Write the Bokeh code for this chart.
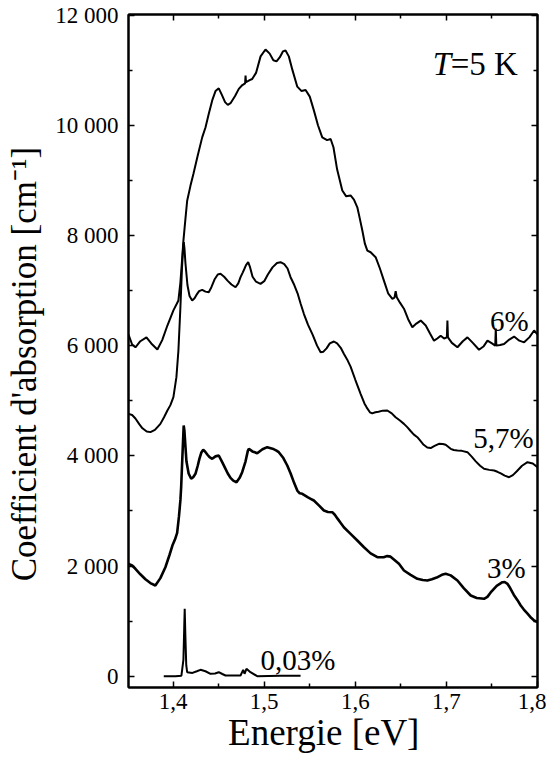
from bokeh.plotting import figure
from bokeh.models import Range1d, FixedTicker, LinearAxis, Label, CustomLabelingPolicy
from bokeh.embed import file_html
from bokeh.resources import INLINE

# ---------------- data ----------------
energy_6 = [1.351, 1.3550, 1.3586, 1.3640, 1.3707, 1.3760, 1.3827, 1.3880, 1.3937, 1.4003, 1.4040,
            1.4058, 1.4080, 1.4100, 1.4113, 1.4135, 1.4154, 1.4190, 1.4223, 1.4270, 1.4319, 1.4355,
            1.4390, 1.4429, 1.4465, 1.4501, 1.4535, 1.4570, 1.4600, 1.4630, 1.4680, 1.4721, 1.4760,
            1.4790, 1.4795, 1.4800, 1.4840, 1.4868, 1.4910, 1.4960, 1.5014, 1.5060, 1.5100, 1.5135,
            1.5170, 1.5205, 1.5234, 1.5270, 1.5310, 1.5363, 1.5410, 1.5454, 1.5500, 1.5545, 1.5590,
            1.5637, 1.5690, 1.5729, 1.5760, 1.5800, 1.5857, 1.5900, 1.5948, 1.5985, 1.6022, 1.6050,
            1.6077, 1.6105, 1.6132, 1.6168, 1.6223, 1.6270, 1.6314, 1.6360, 1.6407, 1.6430, 1.6443,
            1.6455, 1.6490, 1.6534, 1.6580, 1.6626, 1.6670, 1.6718, 1.6773, 1.6820, 1.6864, 1.6900,
            1.6937, 1.6975, 1.7005, 1.7011, 1.7017, 1.7060, 1.7121, 1.7180, 1.7231, 1.7290, 1.7358,
            1.7410, 1.7451, 1.7500, 1.7536, 1.7542, 1.7548, 1.7590, 1.7633, 1.7690, 1.7743, 1.7800,
            1.7853, 1.7910, 1.7963, 1.8000]
alpha_6 = [6200, 6020, 5970, 6080, 6150, 6040, 5930, 6100, 6365, 6640, 6760,
           6820, 7150, 7600, 7905, 8300, 8630, 8900, 9120, 9450, 9780, 9960,
           10200, 10450, 10620, 10670, 10550, 10420, 10370, 10400, 10530, 10660, 10730,
           10760, 10900, 10780, 10820, 10840, 10950, 11250, 11375, 11300, 11180, 11160,
           11230, 11340, 11357, 11250, 11000, 10700, 10620, 10640, 10520, 10270, 10000,
           9780, 9730, 9750, 9600, 9200, 8815, 8710, 8725, 8650, 8510, 8300,
           8090, 7850, 7725, 7695, 7605, 7400, 7180, 6950, 6850, 6870, 6990,
           6880, 6780, 6670, 6480, 6335, 6400, 6455, 6365, 6220, 6090, 6130,
           6180, 6130, 6150, 6455, 6150, 6050, 5970, 6080, 6150, 6050, 5925,
           5990, 6090, 6040, 6000, 6310, 6000, 6010, 6030, 6110, 6165, 6090,
           6060, 6150, 6275, 6200]

energy_57 = [1.351, 1.3550, 1.3586, 1.3630, 1.3663, 1.3710, 1.3751, 1.3800, 1.3860, 1.3900, 1.3937,
             1.3970, 1.4003, 1.4036, 1.4058, 1.4080, 1.4097, 1.4110, 1.4117, 1.4125, 1.4135, 1.4157,
             1.4180, 1.4209, 1.4235, 1.4256, 1.4285, 1.4319, 1.4355, 1.4391, 1.4420, 1.4454, 1.4490,
             1.4520, 1.4560, 1.4597, 1.4640, 1.4685, 1.4715, 1.4740, 1.4765, 1.4784, 1.4800, 1.4824,
             1.4845, 1.4872, 1.4910, 1.4959, 1.5000, 1.5040, 1.5091, 1.5140, 1.5179, 1.5220, 1.5256,
             1.5289, 1.5330, 1.5366, 1.5400, 1.5435, 1.5480, 1.5531, 1.5580, 1.5619, 1.5650, 1.5684,
             1.5720, 1.5765, 1.5800, 1.5840, 1.5874, 1.5910, 1.5948, 1.6000, 1.6058, 1.6100, 1.6124,
             1.6160, 1.6186, 1.6220, 1.6255, 1.6300, 1.6351, 1.6400, 1.6442, 1.6490, 1.6534, 1.6570,
             1.6607, 1.6640, 1.6681, 1.6715, 1.6750, 1.6790, 1.6827, 1.6870, 1.6918, 1.6960, 1.6992,
             1.7047, 1.7080, 1.7121, 1.7170, 1.7231, 1.7280, 1.7322, 1.7370, 1.7413, 1.7470, 1.7524,
             1.7560, 1.7597, 1.7640, 1.7688, 1.7730, 1.7773, 1.7830, 1.7890, 1.7948, 1.8000]
alpha_57 = [4762, 4740, 4677, 4570, 4500, 4440, 4430, 4470, 4580, 4700, 4822,
            4920, 5064, 5427, 5912, 6700, 7400, 7800, 7880, 7750, 7500, 7100,
            6900, 6819, 6860, 6920, 6990, 7013, 6980, 6970, 7060, 7200, 7290,
            7303, 7250, 7180, 7110, 7060, 7130, 7242, 7330, 7400, 7460, 7514,
            7420, 7250, 7160, 7122, 7170, 7290, 7420, 7500, 7514, 7480, 7400,
            7242, 7100, 6950, 6760, 6578, 6380, 6200, 6000, 5881, 5890, 5950,
            6040, 6075, 6040, 5960, 5852, 5750, 5620, 5380, 5126, 4950, 4880,
            4790, 4770, 4790, 4800, 4820, 4822, 4770, 4700, 4640, 4580, 4520,
            4450, 4390, 4338, 4270, 4200, 4150, 4140, 4180, 4218, 4215, 4200,
            4127, 4105, 4097, 4090, 4066, 3980, 3900, 3820, 3764, 3745, 3733,
            3710, 3680, 3640, 3612, 3650, 3720, 3820, 3884, 3860, 3793]

energy_3 = [1.351, 1.3550, 1.3586, 1.3640, 1.3696, 1.3750, 1.3805, 1.3860, 1.3915, 1.3960, 1.3992,
            1.4020, 1.4044, 1.4064, 1.4080, 1.4088, 1.4102, 1.4116, 1.4124, 1.4130, 1.4146, 1.4170,
            1.4198, 1.4220, 1.4245, 1.4270, 1.4289, 1.4310, 1.4330, 1.4350, 1.4377, 1.4400, 1.4429,
            1.4465, 1.4501, 1.4540, 1.4575, 1.4600, 1.4630, 1.4660, 1.4696, 1.4730, 1.4758, 1.4795,
            1.4820, 1.4831, 1.4870, 1.4923, 1.4981, 1.5033, 1.5091, 1.5130, 1.5160, 1.5210, 1.5253,
            1.5290, 1.5330, 1.5363, 1.5390, 1.5418, 1.5476, 1.5510, 1.5545, 1.5600, 1.5655, 1.5700,
            1.5747, 1.5775, 1.5805, 1.5840, 1.5874, 1.5948, 1.6022, 1.6095, 1.6168, 1.6242, 1.6311,
            1.6350, 1.6387, 1.6430, 1.6479, 1.6534, 1.6607, 1.6681, 1.6740, 1.6791, 1.6840, 1.6893,
            1.6950, 1.6992, 1.7047, 1.7121, 1.7190, 1.7267, 1.7333, 1.7413, 1.7450, 1.7486, 1.7552,
            1.7615, 1.7640, 1.7670, 1.7700, 1.7739, 1.7780, 1.7816, 1.7850, 1.7893, 1.7930, 1.7963,
            1.8000]
alpha_3 = [2040, 2010, 1950, 1850, 1760, 1690, 1646, 1780, 1978, 2200, 2372,
           2480, 2600, 2900, 3200, 3430, 4000, 4550, 4450, 4300, 3900, 3680,
           3583, 3610, 3674, 3820, 3950, 4060, 4109, 4080, 4020, 3975, 3946,
           3990, 4006, 3880, 3764, 3680, 3600, 3550, 3521, 3600, 3703, 3900,
           4090, 4127, 4080, 4048, 4120, 4157, 4130, 4100, 4066, 3960, 3824,
           3680, 3500, 3370, 3320, 3311, 3250, 3220, 3189, 3100, 3007, 2980,
           2977, 2930, 2860, 2780, 2704, 2584, 2463, 2341, 2230, 2160, 2160,
           2180, 2170, 2110, 2040, 1918, 1840, 1768, 1745, 1737, 1760, 1790,
           1840, 1858, 1830, 1737, 1600, 1465, 1420, 1405, 1440, 1520, 1640,
           1706, 1710, 1677, 1600, 1480, 1380, 1283, 1210, 1130, 1060, 1011,
           980]

energy_003 = [1.3897, 1.4025, 1.4091, 1.4113, 1.4122, 1.4127, 1.4135, 1.4144, 1.4154, 1.4212,
              1.4260, 1.4300, 1.4355, 1.4410, 1.4460, 1.4501, 1.4540, 1.4575, 1.4740, 1.4769,
              1.4784, 1.4805, 1.4849, 1.4923, 1.5179, 1.5399]
alpha_003 = [0, 0, 10, 300, 900, 1223, 700, 200, 73, 60,
             90, 116, 90, 44, 50, 73, 40, 13, 13, 116,
             44, 134, 73, 0, 10, 10]

x_ticks = [1.4, 1.5, 1.6, 1.7, 1.8]
x_tick_labels = ["1,4", "1,5", "1,6", "1,7", "1,8"]
x_minor = [1.35, 1.45, 1.55, 1.65, 1.75]
y_ticks = [0, 2000, 4000, 6000, 8000, 10000, 12000]
y_tick_labels = ["0", "2 000", "4 000", "6 000", "8 000", "10 000", "12 000"]
y_minor = [1000, 3000, 5000, 7000, 9000, 11000]

FONT = "Liberation Serif"
NBSP = "\u00a0"

p = figure(width=546, height=765, output_backend="svg", toolbar_location=None,
           x_range=Range1d(1.351, 1.8), y_range=Range1d(-205, 12010),
           min_border_left=128, min_border_right=9, min_border_top=14, min_border_bottom=78)
p.background_fill_color = "white"
p.border_fill_color = "white"
p.outline_line_color = "black"
p.outline_line_width = 2
p.xgrid.visible = False
p.ygrid.visible = False

xt = FixedTicker(ticks=x_ticks, minor_ticks=x_minor)
yt = FixedTicker(ticks=y_ticks, minor_ticks=y_minor)

hide_labels = CustomLabelingPolicy(
    code="const idx = [...indices]; for (const i of idx) indices.unset(i); return indices")

def style(ax, labels=True):
    ax.axis_line_width = 2
    ax.major_tick_line_width = 1.5
    ax.minor_tick_line_width = 1.5
    ax.major_tick_in = 6
    ax.major_tick_out = 0
    ax.minor_tick_in = 4
    ax.minor_tick_out = 0
    if labels:
        ax.major_label_text_font = FONT
        ax.major_label_text_font_size = "23px"
        ax.major_label_text_color = "black"
        ax.axis_label_text_font = FONT
        ax.axis_label_text_font_style = "normal"
        ax.axis_label_text_color = "black"
    else:
        ax.major_label_text_font_size = "1px"
        ax.major_label_standoff = 0
        ax.major_label_policy = hide_labels

p.xaxis.ticker = xt
p.yaxis.ticker = yt
p.xaxis.major_label_overrides = dict(zip(x_ticks, x_tick_labels))
p.yaxis.major_label_overrides = dict(zip(y_ticks, y_tick_labels))
style(p.xaxis[0])
style(p.yaxis[0])
p.xaxis.axis_label = "Energie [eV]" + NBSP * 2
p.yaxis.axis_label = "Coefficient d'absorption [cm\u207b\u00b9]" + NBSP * 3
p.xaxis.axis_label_text_font_size = "37px"
p.yaxis.axis_label_text_font_size = "35px"
p.xaxis.major_label_standoff = 6
p.yaxis.major_label_standoff = 10
p.xaxis.axis_label_standoff = 0
p.yaxis.axis_label_standoff = 8

top = LinearAxis(ticker=xt)
right = LinearAxis(ticker=yt)
style(top, labels=False)
style(right, labels=False)
p.add_layout(top, "above")
p.add_layout(right, "right")

p.line(energy_6, alpha_6, line_color="black", line_width=2)
p.line(energy_57, alpha_57, line_color="black", line_width=2)
p.line(energy_3, alpha_3, line_color="black", line_width=2.6)
p.line(energy_003, alpha_003, line_color="black", line_width=2)

def lab(x, y, text, align="left", size="29px", style_="normal"):
    p.add_layout(Label(x=x, y=y, text=text, text_font=FONT, text_font_size=size,
                       text_align=align, text_baseline="alphabetic",
                       text_font_style=style_, text_color="black"))

lab(1.7904, 6438, "6%", align="right")
lab(1.7959, 4332, "5,7%", align="right")
lab(1.7871, 1955, "3%", align="right")
lab(1.4959, 303, "0,03%")
lab(1.685, 11120, "T", size="33px", style_="italic")
lab(1.7047, 11120, "=5 K", size="33px")

open("out.html", "w").write(file_html(p, INLINE))
